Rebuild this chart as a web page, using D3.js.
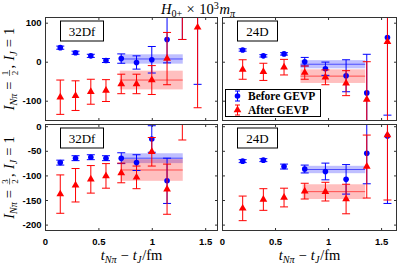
<!DOCTYPE html>
<html>
<head>
<meta charset="utf-8">
<script src="https://cdn.jsdelivr.net/npm/d3@7"></script>
<style>
body { margin: 0; background: #fff; }
svg { display: block; }
.tick text { font-family: "Liberation Sans", Arial, sans-serif; font-weight: bold; font-size: 9.5px; fill: #000; }
.tick line { stroke: #333; }
.math text { font-family: "Liberation Serif", "Times New Roman", serif; fill: #000; }
</style>
</head>
<body>
<svg id="chart" width="399" height="266"></svg>
<script>
// source-sink separations (fm) for the two ensembles
var tFine = [0.143, 0.286, 0.429, 0.571, 0.714, 0.857, 1.0, 1.143, 1.286, 1.429];   // 32Df
var tCoarse = [0.195, 0.39, 0.585, 0.78, 0.975, 1.17, 1.365, 1.56];                 // 24D

var xTicks = [0, 0.5, 1, 1.5];
var yTicksHalf = [-100, 0, 100];
var yTicksThreeHalf = [-200, -150, -100, -50, 0];

// I_Npi = 1/2, 32Df
var blueHalf32 = [36, 23, 15, 3, 8, -2, 5, 57, 200, 170];
var blueHalf32Err = [4, 4, 4, 5, 12, 17, 34, 60, 143, 228];
var redHalf32 = [-91, -87, -77, -74, -57, -57, -47, 8, 160, 88];
var redHalf32Err = [44, 38, 32, 28, 25, 25, 37, 67, 103, 206];
var bandBlueHalf32 = [7, 12];      // mean, error
var bandRedHalf32 = [-47, 24];
var fitWinHalf32 = [0.7, 1.29];

// I_Npi = 1/2, 24D
var blueHalf24 = [30, 15, 20, 0, -18, -36, -80, 62];
var blueHalf24Err = [3, 3, 3, 11, 17, 41, 99, 199];
var redHalf24 = [-20, -26, -14, -28, -40, -55, -97, 51];
var redHalf24Err = [25, 22, 20, 17, 19, 32, 97, 260];
var bandBlueHalf24 = [-6.5, 10.5];
var bandRedHalf24 = [-37, 17.5];
var fitWinHalf24 = [0.74, 1.35];

// I_Npi = 3/2, 32Df
var blueThree32 = [-74, -65, -63, -65, -65, -74, -26, -111];
var blueThree32Err = [5, 5, 5, 5, 11, 16, 27, 46];
var redThree32 = [-138, -120, -108, -101, -95, -104, -52, -128, 30];
var redThree32Err = [39, 34, 28, 25, 20, 23, 29, 51, 58];
var bandBlueThree32 = [-65, 10];
var bandRedThree32 = [-89, 22];
var fitWinThree32 = [0.71, 1.29];

// I_Npi = 3/2, 24D
var blueThree24 = [-71, -69, -82, -87, -92, -108, -55, -20];
var blueThree24Err = [3, 3, 5, 8, 17, 30, 62, 137];
var redThree24 = [-167, -149, -145, -132, -133, -148, -82, -18];
var redThree24Err = [25, 22, 19, 16, 19, 30, 64, 132];
var bandBlueThree24 = [-88, 7.5];
var bandRedThree24 = [-133, 15];
var fitWinThree24 = [0.76, 1.35];

var BLUE = "#0000ff", RED = "#ff0000";

var svg = d3.select("#chart");
var cols = [[45, 218], [222, 397]];
var rows = [[17, 121], [124, 231]];
var xDomains = [[0, 1.62], [0, 1.65]];
var yDomains = [[-152, 114.6], [-213, 4.5]];
var yTickSets = [yTicksHalf, yTicksThreeHalf];

var panels = [
  {c: 0, r: 0, name: "32Df", t: tFine, blue: blueHalf32, blueErr: blueHalf32Err, red: redHalf32, redErr: redHalf32Err,
   bandBlue: bandBlueHalf32, bandRed: bandRedHalf32, win: fitWinHalf32},
  {c: 1, r: 0, name: "24D", t: tCoarse, blue: blueHalf24, blueErr: blueHalf24Err, red: redHalf24, redErr: redHalf24Err,
   bandBlue: bandBlueHalf24, bandRed: bandRedHalf24, win: fitWinHalf24},
  {c: 0, r: 1, name: "32Df", t: tFine, blue: blueThree32, blueErr: blueThree32Err, red: redThree32, redErr: redThree32Err,
   bandBlue: bandBlueThree32, bandRed: bandRedThree32, win: fitWinThree32},
  {c: 1, r: 1, name: "24D", t: tCoarse, blue: blueThree24, blueErr: blueThree24Err, red: redThree24, redErr: redThree24Err,
   bandBlue: bandBlueThree24, bandRed: bandRedThree24, win: fitWinThree24}
];

function drawBand(g, x, y, band, win, color) {
  g.append("rect")
    .attr("x", x(win[0])).attr("width", x(win[1]) - x(win[0]))
    .attr("y", y(band[0] + band[1])).attr("height", y(band[0] - band[1]) - y(band[0] + band[1]))
    .attr("fill", color).attr("fill-opacity", 0.25);
  g.append("line")
    .attr("x1", x(win[0])).attr("x2", x(win[1]))
    .attr("y1", y(band[0])).attr("y2", y(band[0]))
    .attr("stroke", color).attr("stroke-opacity", 0.6).attr("stroke-width", 1);
}

function drawSeries(g, x, y, t, v, e, color, shape) {
  var pts = v.map(function(d, i) { return {t: t[i], v: d, e: e[i]}; });
  var s = g.append("g").attr("stroke", color).attr("fill", color).attr("stroke-width", 1);
  s.selectAll("line.bar").data(pts).join("line").attr("class", "bar")
    .attr("x1", function(d) { return x(d.t); }).attr("x2", function(d) { return x(d.t); })
    .attr("y1", function(d) { return y(d.v - d.e); }).attr("y2", function(d) { return y(d.v + d.e); });
  var caps = [];
  pts.forEach(function(d) { caps.push({t: d.t, v: d.v - d.e}, {t: d.t, v: d.v + d.e}); });
  s.selectAll("line.cap").data(caps).join("line").attr("class", "cap")
    .attr("x1", function(d) { return x(d.t) - 4; }).attr("x2", function(d) { return x(d.t) + 4; })
    .attr("y1", function(d) { return y(d.v); }).attr("y2", function(d) { return y(d.v); });
  if (shape == "circle") {
    s.selectAll("circle").data(pts).join("circle")
      .attr("cx", function(d) { return x(d.t); }).attr("cy", function(d) { return y(d.v); })
      .attr("r", 2.8).attr("stroke", "none");
  } else {
    s.selectAll("path.mk").data(pts).join("path").attr("class", "mk")
      .attr("d", d3.symbol(d3.symbolTriangle, 26))
      .attr("transform", function(d) { return "translate(" + x(d.t) + "," + y(d.v) + ")"; })
      .attr("stroke", "none");
  }
}

// lay out a little TeX-like formula: [text, kind, gap after (em)]
function mathText(parent, parts, size) {
  var g = parent.append("g").attr("class", "math");
  var cx = 0;
  parts.forEach(function(p) {
    var kind = p[1];
    if (kind == "f") {
      var fs = size * 0.62, bits = p[0].split("/");
      var n = g.append("text").attr("y", -size * 0.38).attr("font-size", fs).text(bits[0]);
      var d = g.append("text").attr("y", size * 0.3).attr("font-size", fs).text(bits[1]);
      var wn = n.node().getComputedTextLength(), wd = d.node().getComputedTextLength();
      var w = Math.max(wn, wd) + size * 0.1, x0 = cx + size * 0.1;
      n.attr("x", x0 + (w - wn) / 2);
      d.attr("x", x0 + (w - wd) / 2);
      g.append("line").attr("x1", x0).attr("x2", x0 + w)
        .attr("y1", -size * 0.27).attr("y2", -size * 0.27).attr("stroke", "#000").attr("stroke-width", 0.6);
      cx = x0 + w + size * 0.1;
    } else {
      var small = kind.length > 1;
      var el = g.append("text").attr("x", cx)
        .attr("y", kind[1] == "s" ? size * 0.22 : kind[1] == "p" ? -size * 0.33 : 0)
        .attr("font-size", small ? size * 0.7 : size)
        .attr("font-style", kind[0] == "i" ? "italic" : "normal")
        .text(p[0]);
      cx += el.node().getComputedTextLength();
    }
    cx += (p[2] || 0) * size;
  });
  return {g: g, w: cx};
}

panels.forEach(function(p) {
  var x0 = cols[p.c][0], x1 = cols[p.c][1], y0 = rows[p.r][0], y1 = rows[p.r][1];
  var x = d3.scaleLinear().domain(xDomains[p.c]).range([x0, x1]);
  var y = d3.scaleLinear().domain(yDomains[p.r]).range([y1, y0]);
  var id = "clip" + p.c + p.r;
  svg.append("clipPath").attr("id", id).append("rect")
    .attr("x", x0).attr("y", y0).attr("width", x1 - x0).attr("height", y1 - y0);
  var g = svg.append("g").attr("clip-path", "url(#" + id + ")");

  drawBand(g, x, y, p.bandBlue, p.win, BLUE);
  drawBand(g, x, y, p.bandRed, p.win, RED);
  drawSeries(g, x, y, p.t, p.blue, p.blueErr, BLUE, "circle");
  drawSeries(g, x, y, p.t, p.red, p.redErr, RED, "triangle");

  var fmt = function(d) { return String(d); };
  var none = function() { return ""; };
  var yt = yTickSets[p.r];
  svg.append("g").attr("transform", "translate(0," + y1 + ")")
    .call(d3.axisBottom(x).tickValues(xTicks).tickSizeInner(-3).tickSizeOuter(0).tickPadding(7.5)
      .tickFormat(p.r == 1 ? fmt : none));
  svg.append("g").attr("transform", "translate(0," + y0 + ")")
    .call(d3.axisTop(x).tickValues(xTicks).tickSizeInner(-3).tickSizeOuter(0).tickFormat(none));
  svg.append("g").attr("transform", "translate(" + x0 + ",0)")
    .call(d3.axisLeft(y).tickValues(yt).tickSizeInner(-3).tickSizeOuter(0).tickPadding(3.5)
      .tickFormat(p.c == 0 ? fmt : none));
  svg.append("g").attr("transform", "translate(" + x1 + ",0)")
    .call(d3.axisRight(y).tickValues(yt).tickSizeInner(-3).tickSizeOuter(0).tickFormat(none));
  svg.selectAll(".domain").remove();

  svg.append("rect").attr("x", x0 + 0.5).attr("y", y0 + 0.5)
    .attr("width", x1 - x0 - 1).attr("height", y1 - y0 - 1)
    .attr("fill", "none").attr("stroke", "#333").attr("stroke-width", 1);

  // ensemble tag
  var bx = x0 + 15, by = y0 + 3.5, bw = p.name.length > 3 ? 43 : 40;
  svg.append("rect").attr("x", bx + 0.5).attr("y", by + 0.5).attr("width", bw).attr("height", 20)
    .attr("fill", "#fff").attr("stroke", "#000").attr("stroke-width", 1);
  svg.append("text").attr("x", bx + 0.5 + bw / 2).attr("y", by + 15)
    .attr("text-anchor", "middle").attr("font-family", "Liberation Serif, serif").attr("font-size", 13)
    .text(p.name);
});

// legend in the top-right panel
var lg = svg.append("g");
lg.append("rect").attr("x", 225.5).attr("y", 89.5).attr("width", 95).attr("height", 27)
  .attr("fill", "#fff").attr("stroke", "#000").attr("stroke-width", 1);
[["Before GEVP", BLUE, "circle", 96], ["After GEVP", RED, "triangle", 110]].forEach(function(e) {
  var mx = 237.5, my = e[3];
  var m = lg.append("g").attr("stroke", e[1]).attr("fill", e[1]);
  m.append("line").attr("x1", mx).attr("x2", mx).attr("y1", my - 5).attr("y2", my + 5);
  m.append("line").attr("x1", mx - 2.5).attr("x2", mx + 2.5).attr("y1", my - 5).attr("y2", my - 5);
  m.append("line").attr("x1", mx - 2.5).attr("x2", mx + 2.5).attr("y1", my + 5).attr("y2", my + 5);
  if (e[2] == "circle") m.append("circle").attr("cx", mx).attr("cy", my).attr("r", 2.8).attr("stroke", "none");
  else m.append("path").attr("d", d3.symbol(d3.symbolTriangle, 26)).attr("transform", "translate(" + mx + "," + my + ")").attr("stroke", "none");
  lg.append("text").attr("x", 248).attr("y", my + 4)
    .attr("font-family", "Liberation Serif, serif").attr("font-weight", "bold").attr("font-size", 11.5)
    .text(e[0]);
});

// title
var title = mathText(svg, [["H", "i", 0], ["0+", "rs", 0.3], ["×", "r", 0.3], ["10", "r", 0], ["3", "rp", 0.05], ["m", "i", 0], ["π", "is", 0]], 14.5);
title.g.attr("transform", "translate(" + (198 - title.w / 2) + ",13.5)");

// x labels
[0, 1].forEach(function(c) {
  var xl = mathText(svg, [["t", "i", 0], ["Nπ", "is", 0.28], ["−", "r", 0.28], ["t", "i", 0], ["J", "is", 0.05], ["/fm", "r", 0]], 14.5);
  xl.g.attr("transform", "translate(" + ((cols[c][0] + cols[c][1]) / 2 - xl.w / 2) + ",260)");
});

// y labels
[["1/2", 0], ["3/2", 1]].forEach(function(e) {
  var cy = (rows[e[1]][0] + rows[e[1]][1]) / 2;
  var outer = svg.append("g").attr("transform", "translate(13.5," + cy + ") rotate(-90)");
  var yl = mathText(outer, [["I", "i", 0], ["Nπ", "is", 0.28], ["=", "r", 0.28], [e[0], "f", 0], [",", "r", 0.3],
    ["I", "i", 0], ["J", "is", 0.28], ["=", "r", 0.28], ["1", "r", 0]], 14.5);
  yl.g.attr("transform", "translate(" + (-yl.w / 2) + ",0)");
});
</script>
</body>
</html>
